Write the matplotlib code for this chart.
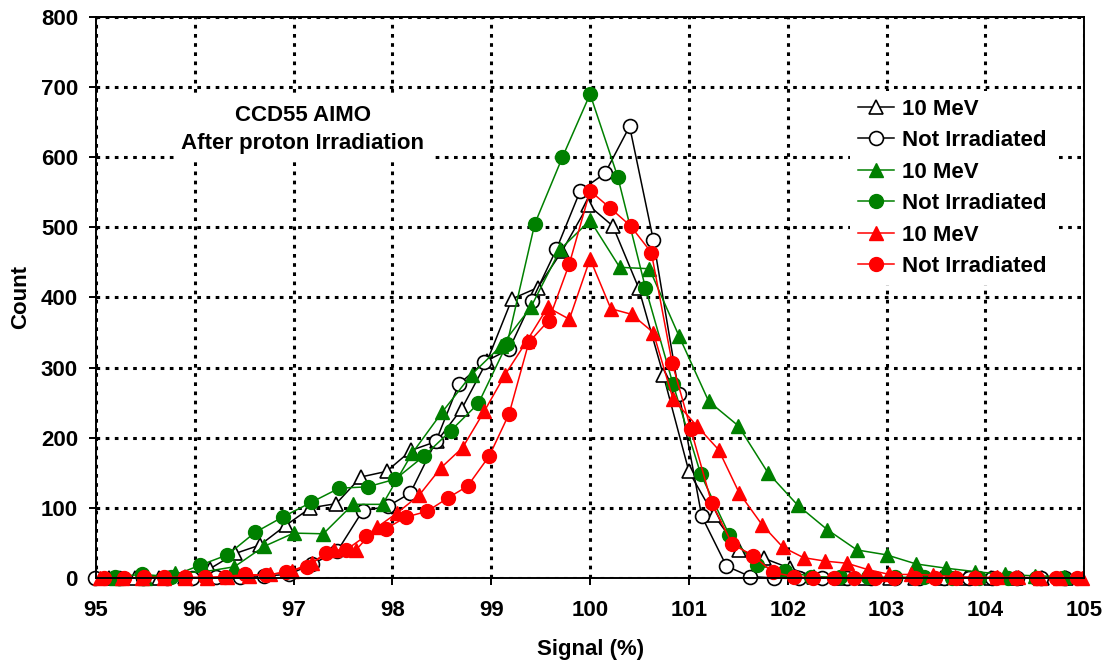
import numpy as np
import matplotlib
matplotlib.use("Agg")
import matplotlib.pyplot as plt

plt.rcParams['font.family'] = ['Liberation Sans', 'DejaVu Sans']
plt.rcParams['font.weight'] = 'bold'
plt.rcParams['font.size'] = 16

# black, open triangles (10 MeV)
bt_x = [95.13, 95.39, 95.64, 95.90, 96.15, 96.41, 96.66, 96.92, 97.17, 97.43, 97.68, 97.94, 98.19,
        98.45, 98.70, 98.96, 99.21, 99.47, 99.72, 99.98, 100.23, 100.49, 100.74, 101.00, 101.25,
        101.51, 101.76, 102.02, 102.27, 102.53, 102.78, 103.04, 103.29, 103.55, 103.80, 104.06,
        104.31, 104.57, 104.82]
bt_y = [0, 0, 0, 2, 13, 35, 47, 75, 100, 106, 144, 152, 182, 195, 241, 310, 398, 414, 467, 532,
        502, 414, 290, 152, 90, 40, 28, 14, 2, 0, 0, 0, 0, 0, 0, 0, 0, 0, 0]

# black, open circles (not irradiated)
bc_x = [94.99, 95.23, 95.48, 95.72, 95.97, 96.21, 96.46, 96.70, 96.95, 97.19, 97.44, 97.70, 97.95,
        98.18, 98.44, 98.67, 98.93, 99.18, 99.41, 99.66, 99.90, 100.15, 100.40, 100.64, 100.90,
        101.13, 101.38, 101.62, 101.86, 102.11, 102.35, 102.60, 102.84, 103.09, 103.33, 103.58,
        103.83, 104.07, 104.32, 104.56, 104.81]
bc_y = [0, 0, 0, 0, 0, 2, 2, 3, 5, 20, 38, 96, 102, 121, 195, 276, 308, 326, 395, 469, 552, 577,
        644, 482, 263, 88, 17, 2, 0, 0, 0, 0, 0, 0, 0, 0, 0, 0, 0, 0, 0]

# green triangles (10 MeV)
gt_x = [95.2, 95.5, 95.8, 96.1, 96.4, 96.7, 97.0, 97.3, 97.6, 97.9, 98.2, 98.5, 98.8, 99.1, 99.4,
        99.7, 100.0, 100.3, 100.6, 100.9, 101.2, 101.5, 101.8, 102.1, 102.4, 102.7, 103.0, 103.3,
        103.6, 103.9, 104.2, 104.5, 104.8]
gt_y = [0, 0, 7, 9, 16, 45, 64, 63, 105, 105, 178, 236, 290, 331, 386, 469, 510, 443, 441, 345,
        252, 217, 150, 104, 69, 40, 33, 20, 14, 9, 5, 3, 2]

# green circles (not irradiated)
gc_x = [95.19, 95.47, 95.76, 96.05, 96.33, 96.61, 96.89, 97.18, 97.46, 97.75, 98.03, 98.32, 98.59,
        98.87, 99.16, 99.44, 99.72, 100.00, 100.28, 100.56, 100.84, 101.12, 101.41, 101.69, 101.97,
        102.24, 102.53, 102.81, 103.09, 103.38, 103.66, 103.94, 104.23, 104.51, 104.79]
gc_y = [2, 5, 2, 18, 33, 65, 87, 108, 128, 130, 141, 174, 210, 249, 334, 505, 600, 690, 572, 414,
        276, 148, 61, 18, 10, 2, 1, 1, 1, 1, 0, 0, 0, 0, 0]

# red triangles (10 MeV)
rt_x = [95.04, 95.26, 95.47, 95.69, 95.90, 96.12, 96.33, 96.55, 96.76, 96.98, 97.19, 97.41, 97.63,
        97.84, 98.05, 98.27, 98.49, 98.71, 98.93, 99.14, 99.36, 99.57, 99.79, 100.00, 100.21,
        100.42, 100.64, 100.84, 101.08, 101.30, 101.51, 101.74, 101.95, 102.16, 102.38, 102.60,
        102.81, 103.03, 103.25, 103.47, 103.69, 103.90, 104.12, 104.33, 104.55, 104.76, 104.98]
rt_y = [0, 0, 0, 0, 0, 0, 1, 3, 5, 10, 22, 40, 40, 72, 93, 118, 157, 186, 238, 290, 338, 386, 369,
        455, 384, 376, 350, 255, 217, 183, 121, 76, 44, 29, 24, 21, 12, 5, 5, 4, 2, 1, 1, 1, 0, 0, 0]

# red circles (not irradiated)
rc_x = [95.08, 95.28, 95.49, 95.69, 95.90, 96.10, 96.31, 96.51, 96.72, 96.92, 97.13, 97.33, 97.53,
        97.73, 97.93, 98.14, 98.35, 98.56, 98.76, 98.98, 99.18, 99.38, 99.58, 99.79, 100.00, 100.20,
        100.41, 100.62, 100.83, 101.02, 101.23, 101.44, 101.65, 101.85, 102.06, 102.26, 102.47,
        102.67, 102.88, 103.08, 103.29, 103.49, 103.70, 103.90, 104.11, 104.31, 104.52, 104.72,
        104.93]
rc_y = [0, 0, 1, 1, 1, 1, 2, 5, 4, 8, 16, 36, 40, 60, 70, 87, 95, 114, 131, 174, 234, 336, 367, 448,
        552, 528, 502, 464, 307, 212, 107, 48, 32, 8, 2, 0, 0, 0, 0, 0, 0, 0, 0, 0, 0, 0, 0, 0, 0]

labels = ["10 MeV", "Not Irradiated", "10 MeV", "Not Irradiated", "10 MeV", "Not Irradiated"]

fig = plt.figure(figsize=(11.04, 6.61), dpi=100)
ax = fig.add_axes([0.087, 0.1256, 0.895, 0.8487])

ms = 10
lw = 1.1
kw = dict(lw=lw, ms=ms, clip_on=False, zorder=3)
ax.plot(bt_x, bt_y, color='black', marker='^', mfc='white', mec='black', mew=1.2, label=labels[0], **kw)
ax.plot(bc_x, bc_y, color='black', marker='o', mfc='white', mec='black', mew=1.2, label=labels[1], **kw)
ax.plot(gt_x, gt_y, color='#008000', marker='^', mfc='#008000', mec='#008000', label=labels[2], **kw)
ax.plot(gc_x, gc_y, color='#008000', marker='o', mfc='#008000', mec='#008000', label=labels[3], **kw)
ax.plot(rt_x, rt_y, color='#ff0000', marker='^', mfc='#ff0000', mec='#ff0000', label=labels[4], **kw)
ax.plot(rc_x, rc_y, color='#ff0000', marker='o', mfc='#ff0000', mec='#ff0000', label=labels[5], **kw)

ax.set_xlim(95, 105)
ax.set_ylim(0, 800)
ax.set_xticks(np.arange(95, 106, 1))
ax.set_yticks(np.arange(0, 801, 100))
ax.grid(True, color='black', linestyle=(0, (1.2, 1.8)), linewidth=2.2)
ax.set_axisbelow(True)
for s in ax.spines.values():
    s.set_linewidth(1.4)
    s.set_zorder(4)
ax.tick_params(axis='x', direction='out', length=5, width=1.4, pad=11)
ax.tick_params(axis='y', direction='out', length=5, width=1.4, pad=8)

ax.set_xlabel("Signal (%)", fontweight='bold', labelpad=13)
ax.set_ylabel("Count", fontweight='bold', labelpad=7)

ax.text(97.09, 640, "CCD55 AIMO\nAfter proton Irradiation", ha='center', va='center',
        fontweight='bold', linespacing=1.45, zorder=2,
        bbox=dict(boxstyle='square,pad=0.3', fc='white', ec='none'))

leg = ax.legend(loc='upper left', bbox_to_anchor=(0.763, 0.868), frameon=True, fancybox=False,
                facecolor='white', edgecolor='none', framealpha=1, borderpad=0.35,
                handlelength=1.65, handletextpad=0.35, labelspacing=0.47, borderaxespad=0)

fig.savefig("out.png", dpi=100)
